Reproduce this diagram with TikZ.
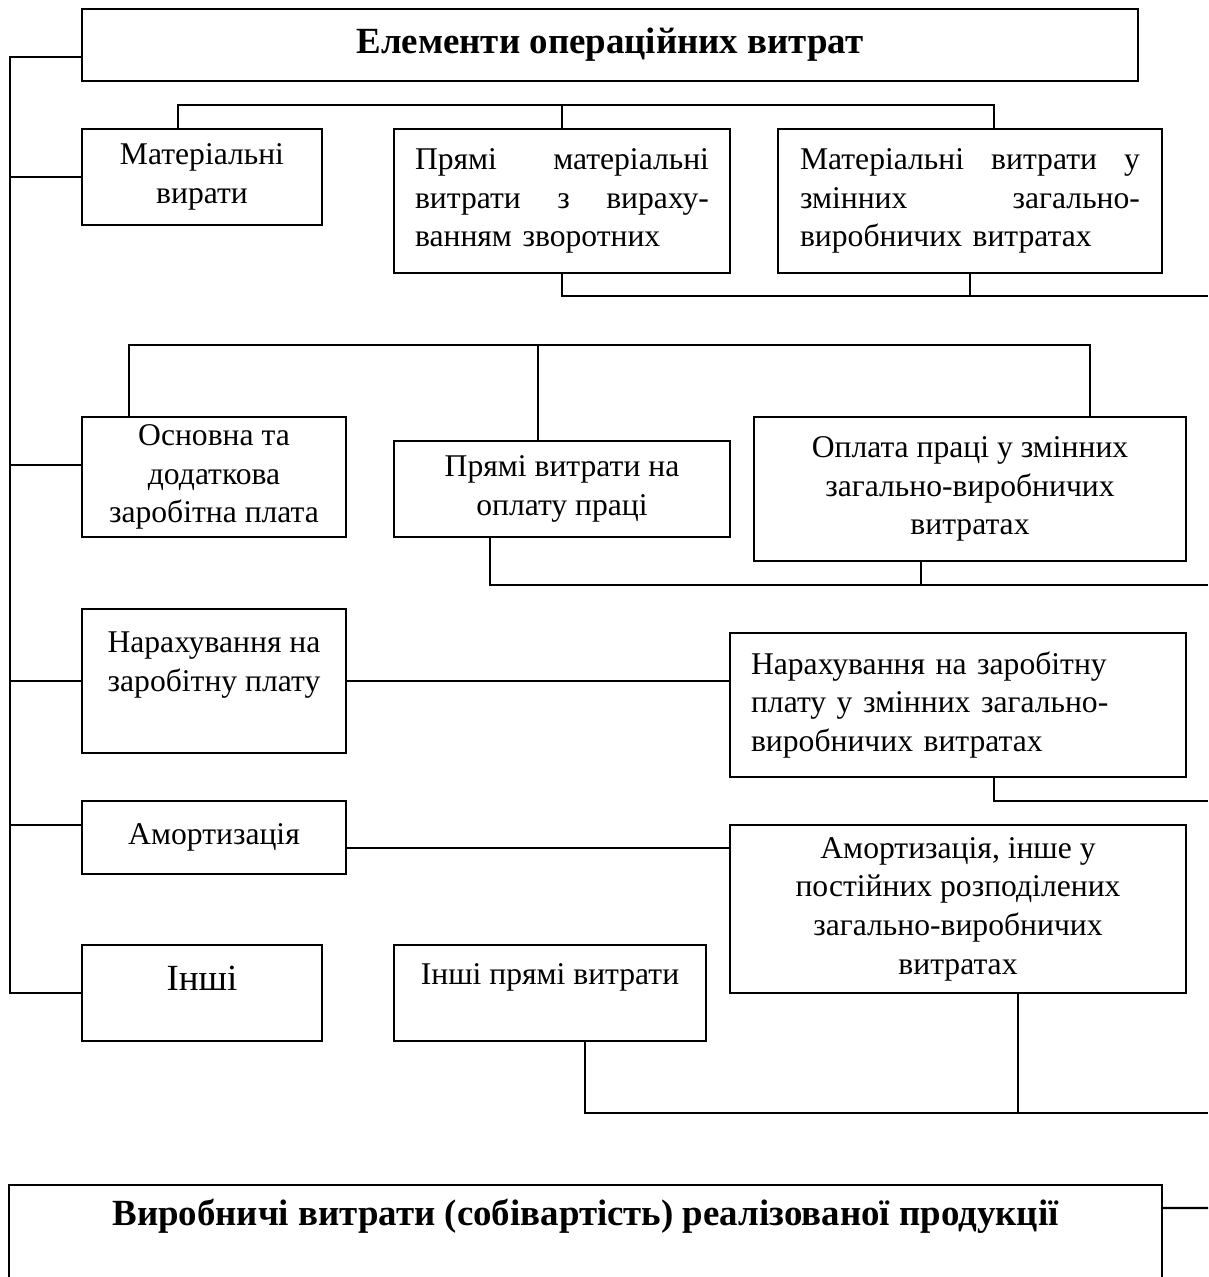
\documentclass[tikz,border=0pt]{standalone}
\usepackage{fontspec}
\setmainfont{Liberation Serif}
\tikzstyle{cost_box}=[draw=black, line width=1.2pt, inner sep=0pt, align=center, font=\fontsize{18pt}{22pt}\selectfont]
\tikzstyle{cost_head}=[cost_box, font=\fontsize{21pt}{25pt}\selectfont\bfseries]
\tikzstyle{cost_just}=[cost_box, align=left]

\begin{document}
\begin{tikzpicture}[x=0.02cm, y=-0.02cm, line width=1.2pt]
          \clip (0,0) rectangle (1208,1277);
          \node[cost_head, minimum width=21.12cm, minimum height=1.44cm] (top) at (610,45){Елементи операційних витрат};
          \node[cost_box, minimum width=4.8cm, minimum height=1.92cm] (mat1) at (202,177){Матеріальні\\вирати};
          \node[cost_just, minimum width=6.72cm, minimum height=2.88cm, text width=5.88cm] (mat2) at (562,201){Прямі\hfill матеріальні\\витрати\hfill з\hfill вираху-\\ванням зворотних};
          \node[cost_just, minimum width=7.68cm, minimum height=2.88cm, text width=6.8cm] (mat3) at (970,201){Матеріальні\hfill витрати\hfill у\\змінних\hfill загально-\\виробничих витратах};
          \node[cost_box, minimum width=5.28cm, minimum height=2.4cm] (pay1) at (214,477){Основна та\\додаткова\\заробітна плата};
          \node[cost_box, minimum width=6.72cm, minimum height=1.92cm] (pay2) at (562,489){Прямі витрати на\\оплату праці};
          \node[cost_box, minimum width=8.64cm, minimum height=2.88cm] (pay3) at (970,489){Оплата праці у змінних\\загально-виробничих\\витратах};
          \node[cost_box, minimum width=5.28cm, minimum height=2.88cm] (acc1) at (214,681){Нарахування на\\заробітну плату\\~};
          \node[cost_just, minimum width=9.12cm, minimum height=2.88cm, text width=8.28cm] (acc2) at (958,705){Нарахування на заробітну\\плату у змінних загально-\\виробничих витратах};
          \node[cost_box, minimum width=5.28cm, minimum height=1.46cm] (amo1) at (214,837.5){Амортизація};
          \node[cost_box, minimum width=9.12cm, minimum height=3.36cm] (amo2) at (958,909){Амортизація, інше у\\постійних розподілених\\загально-виробничих\\витратах};
          \node[cost_box, minimum width=4.8cm, minimum height=1.92cm, font=\fontsize{21pt}{25pt}\selectfont] (oth1) at (202,993){Інші\\[-0.3cm]~};
          \node[cost_box, minimum width=6.24cm, minimum height=1.92cm] (oth2) at (550,993){Інші прямі витрати\\~};
          \node[cost_head, minimum width=23.06cm, minimum height=1.98cm] (prod) at (585.5,1234.5){Виробничі витрати (собівартість) реалізованої продукції\\~};
          \coordinate (spine) at (10,57);
          \coordinate (bus_mat) at (994,105);
          \coordinate (out_mat) at (1208,296);
          \coordinate (bus_pay) at (1090,345);
          \coordinate (out_pay) at (1208,585);
          \coordinate (out_acc) at (1208,801);
          \coordinate (out_oth) at (1208,1113);
          \coordinate (in_prod) at (1208,1208);
          \draw[]([yshift=-0.24cm]top.west) -| (oth1.west -| spine) -- (oth1.west);
          \draw[](mat1.west) -- (mat1.west -| spine);
          \draw[]([yshift=0.24cm]pay1.west) -- ([yshift=0.24cm]pay1.west -| spine);
          \draw[](acc1.west) -- (acc1.west -| spine);
          \draw[]([yshift=0.25cm]amo1.west) -- ([yshift=0.25cm]amo1.west -| spine);
          \draw[]([xshift=-0.48cm]mat1.north) |- (bus_mat) -- (bus_mat |- mat3.north);
          \draw[](mat2.north) -- (mat2.north |- bus_mat);
          \draw[](mat2.south) |- (out_mat);
          \draw[](mat3.south) -- (mat3.south |- out_mat);
          \draw[]([xshift=-1.7cm]pay1.north) |- (bus_pay) -- (bus_pay |- pay3.north);
          \draw[]([xshift=-0.48cm]pay2.north) -- ([xshift=-0.48cm]pay2.north |- bus_pay);
          \draw[]([xshift=-1.44cm]pay2.south) |- (out_pay);
          \draw[]([xshift=-0.98cm]pay3.south) -- ([xshift=-0.98cm]pay3.south |- out_pay);
          \draw[](acc1.east) -- (acc1.east -| acc2.west);
          \draw[]([xshift=0.72cm]acc2.south) |- (out_acc);
          \draw[]([yshift=-0.21cm]amo1.east) -- ([yshift=-0.21cm]amo1.east -| amo2.west);
          \draw[]([xshift=0.7cm]oth2.south) |- (out_oth);
          \draw[]([xshift=1.2cm]amo2.south) -- ([xshift=1.2cm]amo2.south |- out_oth);
          \draw[]([yshift=0.53cm]prod.east) -- (in_prod);
        \end{tikzpicture}
\end{document}
